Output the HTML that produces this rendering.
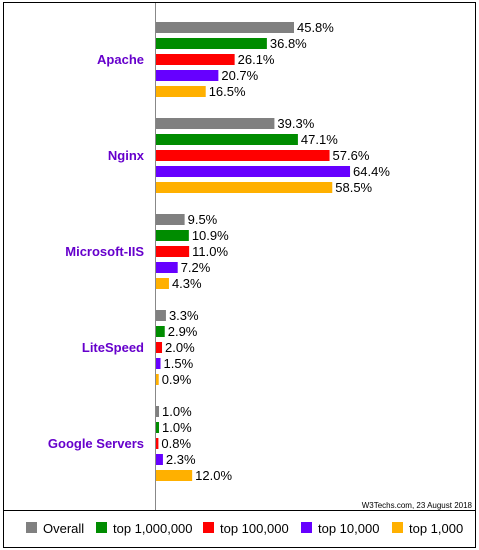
<!DOCTYPE html>
<html><head><meta charset="utf-8"><style>
body{margin:0;background:#fff;font-family:"Liberation Sans",sans-serif}
svg{display:block}
</style></head><body>
<svg id="c" width="479" height="550">
<rect x="3.5" y="2.5" width="472" height="545" fill="none" stroke="#000"/>
<line x1="3.5" y1="510.5" x2="475.5" y2="510.5" stroke="#000"/>
<line x1="155.5" y1="3" x2="155.5" y2="510" stroke="#888"/>
<text x="472" y="508" font-size="8" text-anchor="end" fill="#000">W3Techs.com, 23 August 2018</text>
<g id="bars"></g>
<g id="legend"></g>
</svg>
<script>
const categories=["Apache","Nginx","Microsoft-IIS","LiteSpeed","Google Servers"];
const seriesNames=["Overall","top 1,000,000","top 100,000","top 10,000","top 1,000"];
const colors=["#808080","#008c00","#ff0000","#6600ff","#ffb000"];
const overall=[45.8,39.3,9.5,3.3,1.0];
const top1m=[36.8,47.1,10.9,2.9,1.0];
const top100k=[26.1,57.6,11.0,2.0,0.8];
const top10k=[20.7,64.4,7.2,1.5,2.3];
const top1k=[16.5,58.5,4.3,0.9,12.0];
const series=[overall,top1m,top100k,top10k,top1k];
const NS="http://www.w3.org/2000/svg";
const x=v=>v*3.013;
const barY=(g,s)=>22+g*96+s*16;
const bars=document.getElementById('bars');
function mk(t,a,p){const e=document.createElementNS(NS,t);for(const k in a)e.setAttribute(k,a[k]);p.appendChild(e);return e;}
categories.forEach((c,g)=>{
  const l=mk('text',{x:144,y:barY(g,2)+10,'text-anchor':'end','font-size':13,'font-weight':'bold',fill:'#6600cc'},bars);
  l.textContent=c;
  
  
  series.forEach((arr,s)=>{
    const r=mk('rect',{x:156,y:barY(g,s),width:Math.max(x(arr[g]),1),height:11,fill:colors[s]},bars);
    
    
    const t=mk('text',{x:156+x(arr[g])+3,y:barY(g,s)+10,'font-size':13,fill:'#000'},bars);
    t.textContent=arr[g].toFixed(1)+'%';
    
    
  });
});
const lg=document.getElementById('legend');
const lx=[26,96,203,301,392];
seriesNames.forEach((n,i)=>{
  const r=mk('rect',{x:lx[i],y:522,width:11,height:11,fill:colors[i]},lg);
  
  
  const t=mk('text',{x:lx[i]+17,y:533,'font-size':13,fill:'#000'},lg);
  t.textContent=n;
  
  
});
</script>
</body></html>
